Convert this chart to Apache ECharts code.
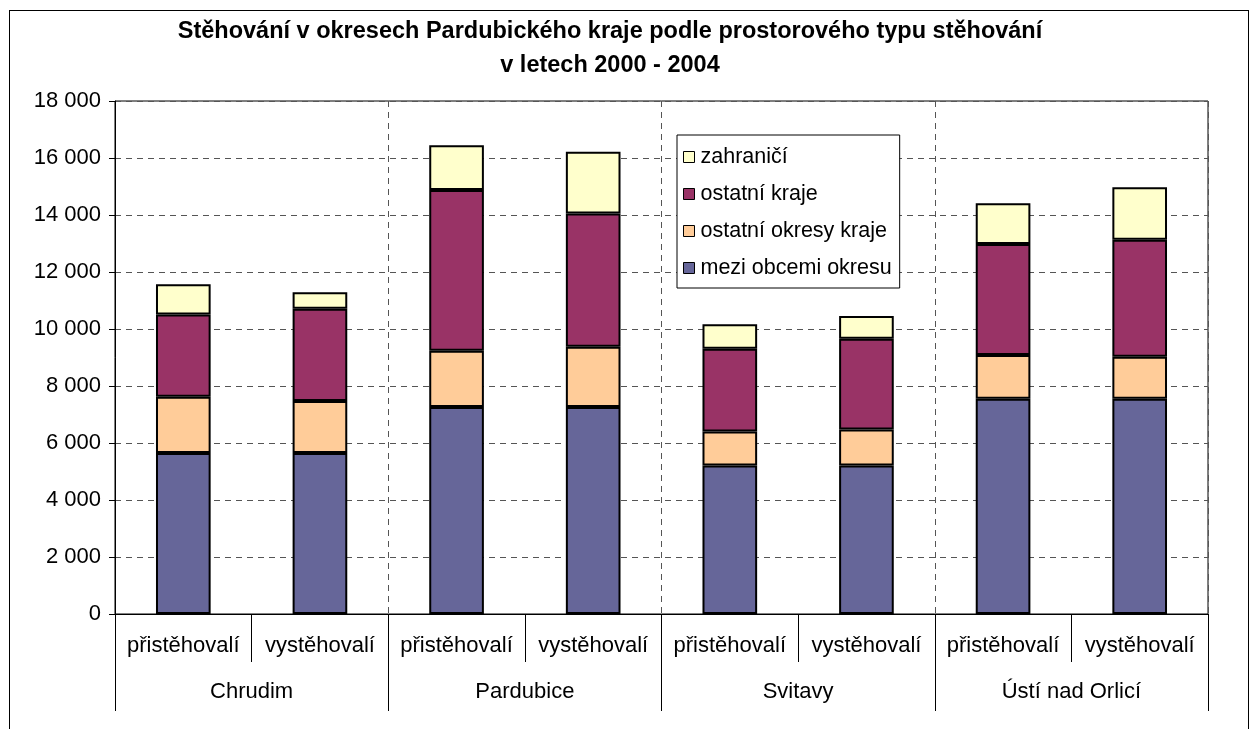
<!DOCTYPE html>
<html>
<head>
<meta charset="utf-8">
<script src="https://cdn.jsdelivr.net/npm/echarts@6/dist/echarts.min.js"></script>
<style>
html,body{margin:0;padding:0;background:#fff;}
#frame{position:absolute;left:9px;top:10px;width:1240px;height:740px;border:1px solid #000;box-sizing:border-box;}
#chart{position:absolute;left:0;top:0;width:1259px;height:729px;}
</style>
</head>
<body>
<div id="frame"></div>
<div id="chart"></div>
<script>
const titleLines = ['Stěhování v okresech Pardubického kraje podle prostorového typu stěhování', 'v letech 2000 - 2004'];
const districts = ['Chrudim', 'Pardubice', 'Svitavy', 'Ústí nad Orlicí'];
const directions = ['přistěhovalí', 'vystěhovalí', 'přistěhovalí', 'vystěhovalí', 'přistěhovalí', 'vystěhovalí', 'přistěhovalí', 'vystěhovalí'];
const seriesNames = ['mezi obcemi okresu', 'ostatní okresy kraje', 'ostatní kraje', 'zahraničí'];
const legendOrder = ['zahraničí', 'ostatní kraje', 'ostatní okresy kraje', 'mezi obcemi okresu'];
const meziObcemiOkresu = [5650, 5650, 7260, 7260, 5210, 5210, 7550, 7550];
const ostatniOkresyKraje = [1970, 1820, 1980, 2120, 1190, 1260, 1540, 1480];
const ostatniKraje = [2890, 3240, 5640, 4670, 2910, 3190, 3890, 4100];
const zahranici = [1060, 580, 1565, 2170, 855, 800, 1430, 1840];
const yTicks = [0, 2000, 4000, 6000, 8000, 10000, 12000, 14000, 16000, 18000];

const seriesValues = [meziObcemiOkresu, ostatniOkresyKraje, ostatniKraje, zahranici];
const colors = ['#666699', '#FFCC99', '#993366', '#FFFFCC'];
const FONT = 'Liberation Sans, Arial, sans-serif';

const chart = echarts.init(document.getElementById('chart'));
chart.setOption({
  animation: false,
  backgroundColor: 'transparent',
  title: {
    text: titleLines.join('\n'),
    left: 605,
    textAlign: 'center',
    top: 10,
    textStyle: {fontFamily: FONT, fontSize: 23.5, fontWeight: 'bold', color: '#000', lineHeight: 34}
  },
  legend: {
    orient: 'vertical',
    left: 677,
    top: 135,
    width: 226,
    data: legendOrder,
    icon: 'rect',
    itemWidth: 11,
    itemHeight: 11,
    itemGap: 13,
    padding: [10, 8, 8, 6],
    backgroundColor: '#fff',
    borderColor: '#000',
    borderWidth: 1,
    borderRadius: 0,
    itemStyle: {borderColor: '#000', borderWidth: 1},
    textStyle: {fontFamily: FONT, fontSize: 21.5, color: '#000', lineHeight: 24, padding: [0, 0, 0, 1]}
  },
  grid: {
    left: 115, right: 51, top: 101, bottom: 115,
    show: true, borderColor: '#000', borderWidth: 1, backgroundColor: 'transparent'
  },
  xAxis: [
    {
      type: 'category',
      data: directions,
      position: 'bottom',
      axisLine: {show: true, lineStyle: {color: '#000', width: 1}},
      axisTick: {show: true, length: 48, lineStyle: {color: '#000', width: 1}},
      axisLabel: {fontFamily: FONT, fontSize: 22, color: '#000', margin: 21, interval: 0},
      splitLine: {show: false}
    },
    {
      type: 'category',
      data: districts,
      position: 'bottom',
      axisLine: {show: false},
      axisTick: {show: true, length: 97, lineStyle: {color: '#000', width: 1}},
      axisLabel: {fontFamily: FONT, fontSize: 22, color: '#000', margin: 67, interval: 0},
      splitLine: {show: true, lineStyle: {color: '#555', type: [6, 5], width: 1}}
    }
  ],
  yAxis: {
    type: 'value',
    min: yTicks[0],
    max: yTicks[yTicks.length - 1],
    interval: yTicks[1] - yTicks[0],
    axisLine: {show: true, lineStyle: {color: '#000', width: 1}},
    axisTick: {show: true, length: 6, lineStyle: {color: '#000'}},
    axisLabel: {
      fontFamily: FONT, fontSize: 22, color: '#000', margin: 14,
      formatter: v => String(v).replace(/\B(?=(\d{3})+(?!\d))/g, ' ')
    },
    splitLine: {show: true, lineStyle: {color: '#555', type: [6, 5], width: 1}}
  },
  series: seriesNames.map((name, i) => ({
    name: name,
    type: 'bar',
    stack: 'total',
    xAxisIndex: 0,
    barWidth: '40%',
    data: seriesValues[i],
    itemStyle: {color: colors[i], borderColor: '#000', borderWidth: 2}
  }))
});
</script>
</body>
</html>
